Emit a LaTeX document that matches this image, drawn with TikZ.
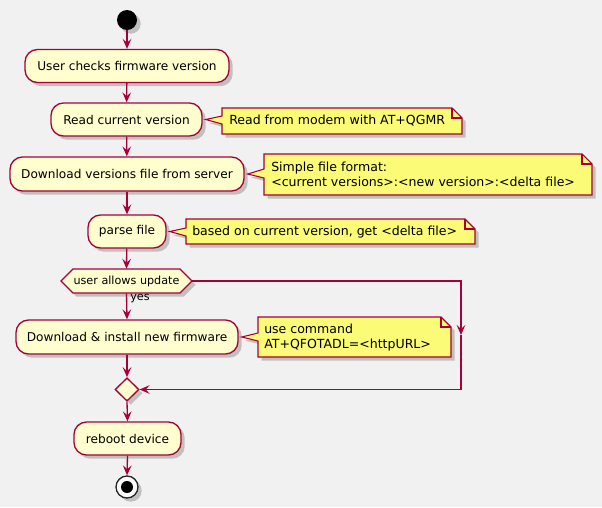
\documentclass[tikz,border=0pt]{standalone}
\usepackage{fontspec}
\setmainfont{DejaVu Sans}
\usetikzlibrary{shapes.geometric,shadows,arrows.meta,calc}
\definecolor{bgc}{HTML}{F1F1F1}
\definecolor{actfill}{HTML}{FEFECE}
\definecolor{bord}{HTML}{A80036}
\definecolor{notefill}{HTML}{FBFB77}
\begin{document}
\begin{tikzpicture}[x=0.75pt,y=-0.75pt,
  shad/.style={drop shadow={shadow xshift=2.8pt,shadow yshift=-2.8pt,opacity=0.2,fill=black}},
  actbox/.style={draw=bord,fill=actfill,line width=1pt,rounded corners=9.4pt,minimum height=24.75pt,inner sep=0pt,font=\fontsize{9.1}{11}\selectfont,shad},
  notebg/.style={draw=bord,fill=notefill,line width=0.8pt,shad},
  notefold/.style={draw=bord,line width=0.8pt},
  notetext/.style={font=\fontsize{9.4}{11.25}\selectfont,align=left,inner sep=0pt,anchor=west},
  flow/.style={draw=bord,line width=1pt,-{Stealth[length=7.5pt,width=6.5pt,inset=3pt]}},
  plain/.style={draw=bord,line width=1pt},
  smalltext/.style={font=\fontsize{8.4}{10}\selectfont,inner sep=0pt}
]
\fill[bgc] (0,0) rectangle (602,507);
\useasboundingbox (0,0) rectangle (602,507);

% start
\node[circle,fill=black,minimum size=15pt,inner sep=0pt,shad] (init) at (127,20) {};

% activities
\node[actbox,minimum width=153pt] (b1) at (127,66) {User checks firmware version};
\node[actbox,minimum width=113.25pt] (b2) at (126.5,119.5) {Read current version};
\node[actbox,minimum width=175.5pt,minimum height=25.5pt] (b3) at (127,174) {Download versions file from server};
\node[actbox,minimum width=58.5pt] (b4) at (127,231.5) {parse file};

% decision hexagon
\path[draw=bord,fill=actfill,line width=1pt,shad] (61,281) -- (73,269) -- (180,269) -- (192,281) -- (180,293) -- (73,293) -- cycle;
\node[smalltext,minimum width=98.25pt,minimum height=18pt] (hex) at (126.5,281) {user allows update};

\node[actbox,minimum width=166.5pt,minimum height=25.5pt] (b5) at (127,337) {Download \& install new firmware};

% merge
\node[diamond,draw=bord,fill=actfill,line width=1pt,minimum width=18pt,minimum height=17.5pt,inner sep=0pt,shad] (merge) at (127,389.5) {};

\node[actbox,minimum width=80.25pt] (b6) at (127.5,438.5) {reboot device};

% end
\node[circle,draw=black!85,fill=white,line width=1pt,minimum size=16.5pt,inner sep=0pt,shad] (final) at (127,487) {};
\node[circle,fill=black,minimum size=9pt,inner sep=0pt] (finaldot) at (final.center) {};

% notes
% note 1
\path[notebg] (222,108) -- (452,108) -- (462,118) -- (462,134) -- (222,134) -- (222,124) -- ($(b2.east)+(3,0)$) -- (222,116) -- cycle;
\path[notefold] (452,108) -- (452,118) -- (462,118);
\node[notetext] (n1) at (229,120.5) {Read from modem with AT+QGMR};
% note 2
\path[notebg] (264,154) -- (582,154) -- (592,164) -- (592,195) -- (264,195) -- (264,178) -- ($(b3.east)+(3,0)$) -- (264,169) -- cycle;
\path[notefold] (582,154) -- (582,164) -- (592,164);
\node[notetext] (n2) at (271,174.5) {Simple file format:\\<current versions>:<new version>:<delta file>};
% note 3
\path[notebg] (186,219) -- (465,219) -- (475,229) -- (475,244) -- (186,244) -- (186,236) -- ($(b4.east)+(3,0)$) -- (186,228) -- cycle;
\path[notefold] (465,219) -- (465,229) -- (475,229);
\node[notetext] (n3) at (192,232) {based on current version, get <delta file>};
% note 4
\path[notebg] (258,317) -- (441,317) -- (451,327) -- (451,357) -- (258,357) -- (258,341) -- ($(b5.east)+(3,0)$) -- (258,333) -- cycle;
\path[notefold] (441,317) -- (441,327) -- (451,327);
\node[notetext] (n4) at (264,337.5) {use command\\AT+QFOTADL=<httpURL>};

% connectors
\draw[flow] (init) -- (b1);
\draw[flow] (b1) -- (b2);
\draw[flow] (b2) -- (b3);
\draw[flow] (b3) -- (b4);
\draw[flow] (b4) -- (hex.north);
\draw[flow] (hex.south) -- (b5.north);
\node[smalltext,anchor=west] (yes) at (130,299) {yes};
\draw[flow] (b5.south) -- (merge.north);
\coordinate (loopmid) at (461,335);
\draw[flow] (hex.east) -| (loopmid);
\draw[plain] (loopmid) -- (461,389.5) -- (merge.east);
\draw[flow] (461,389.5) -- (merge.east);
\draw[flow] (merge.south) -- (b6.north);
\draw[flow] (b6.south) -- (final.north);
\end{tikzpicture}
\end{document}
